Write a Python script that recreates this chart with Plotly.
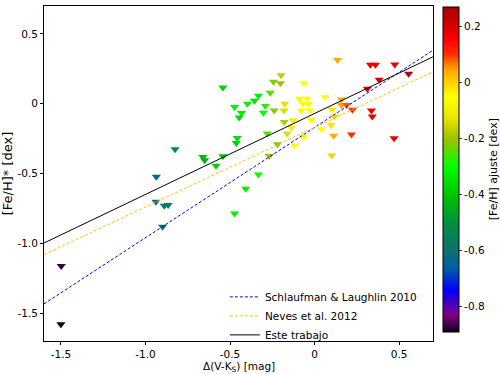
import plotly.graph_objects as go

# -- datos de las estrellas: Delta(V-Ks), [Fe/H]*, [Fe/H] del ajuste
delta_vk = [
    -1.498, -1.500, -0.936, -0.938, -0.889, -0.866, -0.899, -0.825,
    -0.660, -0.650, -0.583, -0.542, -0.542, -0.473, -0.432, -0.446,
    -0.457, -0.463, -0.397, -0.356, -0.332, -0.291, -0.303, -0.262,
    -0.239, -0.243, -0.198, -0.202, -0.176, -0.180, -0.180, -0.280,
    -0.219, -0.268, -0.332, -0.407, -0.473,
    0.136, 0.330, 0.360, 0.474, 0.556, 0.382, 0.312, 0.159, 0.159,
    0.189, 0.224, 0.336, 0.341, 0.470, 0.218, 0.113, 0.101,
    -0.063, 0.062, 0.103, 0.117, 0.097, 0.042, -0.063, -0.117,
    -0.090, -0.045, -0.069, -0.035, -0.028, -0.078, -0.020, -0.127,
    -0.137, -0.163,
]
feh_star = [
    -1.162, -1.580, -0.524, -0.703, -0.731, -0.726, -0.881, -0.326,
    -0.381, -0.405, -0.445, -0.376, 0.116, -0.024, -0.067, -0.098,
    -0.245, -0.281, 0.000, 0.021, 0.057, -0.017, -0.064, 0.079,
    -0.048, 0.157, 0.204, 0.147, 0.000, -0.048, -0.131, -0.214,
    -0.290, -0.374, -0.507, -0.610, -0.786,
    0.314, 0.279, 0.279, 0.281, 0.214, 0.171, 0.107, 0.031, -0.009,
    -0.009, -0.043, -0.048, -0.091, -0.248, -0.221, -0.229, -0.371,
    0.147, 0.047, -0.041, -0.091, -0.153, -0.183, -0.238, -0.300,
    0.036, 0.036, 0.000, 0.000, -0.048, -0.048, -0.115, -0.119,
    -0.171, -0.214,
]
feh_ajuste = [
    -0.87, -0.89, -0.63, -0.60, -0.56, -0.56, -0.60, -0.52,
    -0.43, -0.43, -0.38, -0.40, -0.38, -0.32, -0.33, -0.36,
    -0.36, -0.38, -0.33, -0.34, -0.33, -0.27, -0.30, -0.25,
    -0.22, -0.22, -0.17, -0.20, -0.13, -0.14, -0.18, -0.25,
    -0.22, -0.20, -0.30, -0.32, -0.32,
    0.04, 0.17, 0.17, 0.18, 0.24, 0.20, 0.17, 0.05, 0.05,
    0.08, 0.10, 0.17, 0.17, 0.18, 0.10, 0.04, 0.00,
    -0.05, -0.05, -0.02, 0.00, -0.02, -0.05, -0.06, -0.06,
    -0.06, -0.06, -0.06, -0.06, -0.06, -0.07, -0.07, -0.10,
    -0.10, -0.14,
]

# -- calibraciones lineales: [Fe/H] = pendiente * Delta(V-Ks) + ordenada
calibraciones = ['Schlaufman & Laughlin 2010', 'Neves et al. 2012', 'Este trabajo']
pendientes = [0.79, 0.57, 0.58]
ordenadas = [-0.17, -0.17, -0.07]
colores_linea = ['#0000ff', '#ffbf00', '#000000']
estilos_linea = ['3px,2px', '3px,2px', 'solid']
x_rango = [-1.6, 0.7]

escala = [
    [0.0, '#100020'], [0.052, '#800080'], [0.09, '#4000c0'], [0.129, '#0000ff'],
    [0.198, '#0060a0'], [0.25, '#107070'], [0.336, '#009040'], [0.414, '#00c000'],
    [0.509, '#00ff00'], [0.595, '#a0c000'], [0.66, '#e8e800'], [0.724, '#ffff00'],
    [0.785, '#ffc000'], [0.81, '#ffa000'], [0.853, '#ff3000'], [0.9, '#ff0000'],
    [0.94, '#d80000'], [1.0, '#a80000'],
]

fig = go.Figure()
fig.add_trace(go.Scatter(
    x=delta_vk, y=feh_star, mode='markers', showlegend=False,
    marker=dict(
        symbol='triangle-down', size=8, color=feh_ajuste, colorscale=escala,
        cmin=-0.89, cmax=0.27, line=dict(width=0),
        colorbar=dict(
            title=dict(text='[Fe/H] ajuste [dex]', side='right', font=dict(size=11)),
            x=1.026, xanchor='left', y=0.998, yanchor='top', ypad=0, xpad=0,
            len=325, lenmode='pixels', thickness=16,
            outlinecolor='black', outlinewidth=1,
            tickvals=[0.2, 0, -0.2, -0.4, -0.6, -0.8],
            ticktext=['0.2', '0', '-0.2', '-0.4', '-0.6', '-0.8'],
            ticks='outside', ticklen=3, tickfont=dict(size=10.5),
        ),
    ),
))
for nombre, m, b, c, d in zip(calibraciones, pendientes, ordenadas, colores_linea, estilos_linea):
    fig.add_trace(go.Scatter(
        x=x_rango, y=[m * x + b for x in x_rango], mode='lines', name=nombre,
        line=dict(color=c, width=1, dash=d),
    ))

eje = dict(showline=True, linecolor='black', linewidth=1, mirror=True, showgrid=False,
           zeroline=False, ticks='outside', ticklen=3, tickcolor='black',
           tickfont=dict(size=10.5), automargin=False)
fig.update_layout(
    width=500, height=374, template='simple_white',
    margin=dict(l=44, r=67, t=6, b=33, autoexpand=False),
    font=dict(family='DejaVu Sans', size=10.5, color='black'),
    xaxis=dict(eje, range=x_rango, tickvals=[-1.5, -1.0, -0.5, 0, 0.5],
               ticktext=['-1.5', '-1.0', '-0.5', '0', '0.5']),
    yaxis=dict(eje, range=[-1.7, 0.7], tickvals=[0.5, 0, -0.5, -1.0, -1.5],
               ticktext=['0.5', '0', '-0.5', '-1.0', '-1.5'],
               title=dict(text='[Fe/H]* [dex]', standoff=4)),
    legend=dict(x=0.465, y=-0.025, xanchor='left', yanchor='bottom', bgcolor='rgba(0,0,0,0)',
                font=dict(size=10.5), tracegroupgap=0, itemwidth=30),
)
# -- titulo del eje x como anotacion (debajo de los ticks)
fig.add_annotation(text='Δ(V-K<sub>S</sub>) [mag]', xref='paper', yref='paper',
                   x=0.5, y=-0.078, xanchor='center', yanchor='middle', showarrow=False,
                   font=dict(size=10.5))
# -- quitar el margen por defecto del body para que la figura empiece en (0, 0)
fig.write_html('out.html', config={'displayModeBar': False},
               post_script="document.body.style.margin='0';")
